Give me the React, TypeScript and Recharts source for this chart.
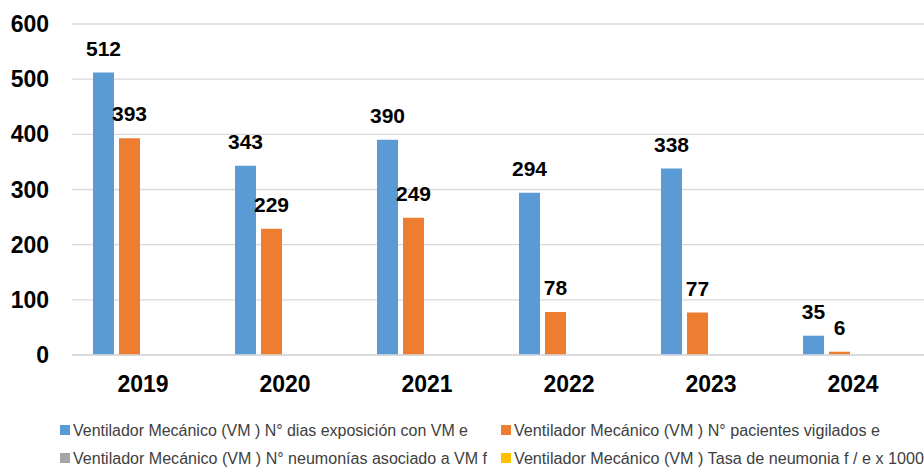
import React from 'react';
import { BarChart, Bar, XAxis, YAxis, CartesianGrid, Legend, LabelList } from 'recharts';

const years = ['2019', '2020', '2021', '2022', '2023', '2024'];
const diasExposicion = [512, 343, 390, 294, 338, 35];
const pacientesVigilados = [393, 229, 249, 78, 77, 6];
const neumonias = [0, 0, 0, 0, 0, 0];
const tasaNeumonia = [0, 0, 0, 0, 0, 0];
const yTicks = [0, 100, 200, 300, 400, 500, 600];

const seriesNames = [
  'Ventilador Mecánico (VM ) N° dias exposición con VM e',
  'Ventilador Mecánico (VM ) N° pacientes vigilados e',
  'Ventilador Mecánico (VM ) N° neumonías asociado a VM f',
  'Ventilador Mecánico (VM ) Tasa de neumonia f / e x 1000',
];
const colors = ['#5B9BD5', '#ED7D31', '#A5A5A5', '#FFC000'];

const data = years.map((year, i) => ({
  year,
  dias: diasExposicion[i],
  pacientes: pacientesVigilados[i],
  neumonias: neumonias[i],
  tasa: tasaNeumonia[i],
}));

const FONT = '"Liberation Sans", Arial, sans-serif';

// legend slots: [marker x, row center y, text width]
const legendSlots = [
  [60, 19, 395],
  [501, 19, 366],
  [60, 47, 414],
  [501, 47, 410],
];

const LegendContent = () => (
  <svg width={924} height={58} style={{ display: 'block' }}>
    {seriesNames.map((name, i) => {
      const [x, y, w] = legendSlots[i];
      return (
        <g key={name}>
          <rect x={x} y={y - 5} width={10} height={10} fill={colors[i]} />
          <text
            x={x + 13}
            y={y + 5.5}
            fontFamily={FONT}
            fontSize={16}
            fill="#404040"
            textLength={w}
            lengthAdjust="spacingAndGlyphs"
          >
            {name}
          </text>
        </g>
      );
    })}
  </svg>
);

const labelStyle = { fontFamily: FONT, fontSize: 21, fontWeight: 700, fill: '#000' };

export default function App() {
  return (
    <div style={{ position: 'absolute', left: 0, top: 0, background: '#fff' }}>
      <BarChart
        width={924}
        height={469}
        data={data}
        margin={{ top: 24, right: 0, bottom: 0, left: 0 }}
        barCategoryGap={21}
        barGap={5}
      >
        <CartesianGrid vertical={false} stroke="#d9d9d9" strokeWidth={1.3} />
        <XAxis
          dataKey="year"
          height={56}
          tickLine={false}
          tickSize={0}
          tickMargin={21}
          axisLine={{ stroke: '#d9d9d9', strokeWidth: 1.3 }}
          tick={{ fontFamily: FONT, fontSize: 23, fontWeight: 700, fill: '#000' }}
        />
        <YAxis
          width={72}
          domain={[0, 600]}
          ticks={yTicks}
          axisLine={false}
          tickLine={false}
          tickSize={0}
          tickMargin={23}
          tick={{ fontFamily: FONT, fontSize: 23, fontWeight: 700, fill: '#000' }}
        />
        <Legend
          verticalAlign="bottom"
          content={<LegendContent />}
          wrapperStyle={{ left: 0, bottom: 0, width: 924, height: 58 }}
        />
        <Bar dataKey="dias" name={seriesNames[0]} fill={colors[0]} isAnimationActive={false}>
          <LabelList dataKey="dias" position="top" offset={17} style={labelStyle} />
        </Bar>
        <Bar dataKey="pacientes" name={seriesNames[1]} fill={colors[1]} isAnimationActive={false}>
          <LabelList dataKey="pacientes" position="top" offset={17} style={labelStyle} />
        </Bar>
        <Bar dataKey="neumonias" name={seriesNames[2]} fill={colors[2]} isAnimationActive={false} />
        <Bar dataKey="tasa" name={seriesNames[3]} fill={colors[3]} isAnimationActive={false} />
      </BarChart>
    </div>
  );
}
